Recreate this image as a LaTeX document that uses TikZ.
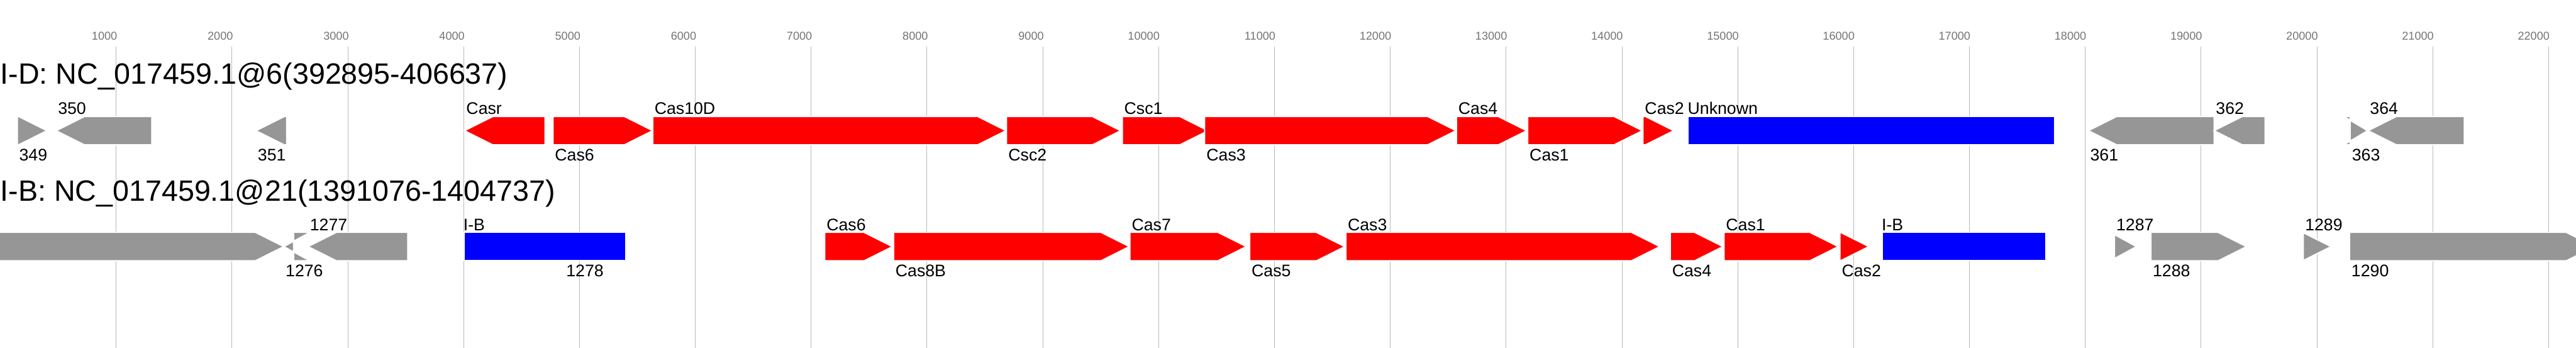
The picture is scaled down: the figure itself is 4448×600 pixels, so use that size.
\documentclass[tikz,border=0pt]{standalone}
\usepackage{fontspec}
\setmainfont{Liberation Sans}
\definecolor{genegray}{RGB}{150,150,150}
\definecolor{gridgray}{RGB}{185,185,185}
\definecolor{tickgray}{RGB}{115,115,115}
\tikzset{
  gene/.style={draw=white,line width=0.6pt},
  lab/.style={anchor=base west,inner sep=0pt,font=\fontsize{8.25}{9}\selectfont},
  hdr/.style={anchor=base west,inner sep=0pt,font=\fontsize{14.4}{16}\selectfont},
  ticklab/.style={anchor=base east,inner sep=0pt,text=tickgray,font=\fontsize{5.6}{6}\selectfont},
  gridline/.style={draw=gridgray,line width=0.3pt}
}
\newcommand\AboveY{-28}
\newcommand\BelowY{51.5}
% gene pointing right: [head]{start}{end}{colour}{label}{label y}
\newcommand\GeneR[6][49]{
\filldraw[gene,fill=#4]
  (#2,-24.5) -- (#3-#1,-24.5) -- (#3,0) -- (#3-#1,24.5) -- (#2,24.5) -- cycle;
\node[lab] (\RowId-#2) at (#2+2.5,#6) {#5};
}
% gene pointing left
\newcommand\GeneL[6][49]{
\filldraw[gene,fill=#4]
  (#3,-24.5) -- (#2+#1,-24.5) -- (#2,0) -- (#2+#1,24.5) -- (#3,24.5) -- cycle;
\node[lab] (\RowId-#2) at (#2+2.5,#6) {#5};
}
% array block
\newcommand\Block[4]{
\filldraw[gene,fill=blue] (#1,-24.5) rectangle (#2,24.5);
\node[lab] (\RowId-#1) at (#1-1.5,#4) {#3};
}

\begin{document}
\begin{tikzpicture}[x=0.01cm,y=-0.01cm]
\useasboundingbox (0,0) rectangle (4448,600);
\clip (0,0) rectangle (4448,600);

% ruler
\foreach \k in {1,...,22}{
  \draw[gridline] (200*\k+0.6,80) -- (200*\k+0.6,600);
  \node[ticklab] (tick\k) at (200*\k+3,69) {\k000};
}

\node[hdr] (hdrD) at (0,145) {I-D: NC\_017459.1@6(392895-406637)};
\node[hdr] (hdrB) at (0,346.7) {I-B: NC\_017459.1@21(1391076-1404737)};

\begin{scope}[shift={(0,225.5)}]
\def\RowId{r1}
\GeneR{30}{81}{genegray}{349}{\BelowY}
\GeneL{97}{262}{genegray}{350}{\AboveY}
\GeneL{442}{495}{genegray}{351}{\BelowY}
\GeneL{802}{941}{red}{Casr}{\AboveY}
\GeneR{955}{1127}{red}{Cas6}{\BelowY}
\GeneR{1127}{1737}{red}{Cas10D}{\AboveY}
\GeneR{1738}{1935}{red}{Csc2}{\BelowY}
\GeneR{1938}{2086}{red}{Csc1}{\AboveY}
\GeneR{2080}{2514}{red}{Cas3}{\BelowY}
\GeneR{2515}{2636}{red}{Cas4}{\AboveY}
\GeneR{2638}{2836}{red}{Cas1}{\BelowY}
\GeneR{2837}{2890}{red}{Cas2}{\AboveY}
\Block{2915}{3548}{Unknown}{\AboveY}
\GeneL{3606}{3823}{genegray}{361}{\BelowY}
\GeneL{3823}{3911}{genegray}{362}{\AboveY}
\GeneR[41]{4058}{4088}{genegray}{363}{\BelowY}
\GeneL{4089}{4255}{genegray}{364}{\AboveY}
\end{scope}

\begin{scope}[shift={(0,425.5)}]
\def\RowId{r2}
\filldraw[gene,fill=genegray]
  (-100,-24.5) -- (441,-24.5) -- (490,0) -- (441,24.5) -- (-100,24.5) -- cycle;
\GeneL[45]{490}{507}{genegray}{1276}{\BelowY}
\GeneL{532}{704}{genegray}{1277}{\AboveY}
\Block{801}{1081}{I-B}{\AboveY}
\node[lab] (r2-977) at (977,\BelowY) {1278};
\GeneR{1424}{1541}{red}{Cas6}{\AboveY}
\GeneR{1543}{1950}{red}{Cas8B}{\BelowY}
\GeneR{1951}{2152}{red}{Cas7}{\AboveY}
\GeneR{2158}{2322}{red}{Cas5}{\BelowY}
\GeneR{2324}{2866}{red}{Cas3}{\AboveY}
\GeneR{2884}{2975}{red}{Cas4}{\BelowY}
\GeneR{2977}{3174}{red}{Cas1}{\AboveY}
\GeneR{3177}{3227}{red}{Cas2}{\BelowY}
\Block{3250}{3532}{I-B}{\AboveY}
\GeneR[45]{3651}{3689}{genegray}{1287}{\AboveY}
\GeneR{3714}{3879}{genegray}{1288}{\BelowY}
\GeneR{3977}{4025}{genegray}{1289}{\AboveY}
\GeneR{4057}{4480}{genegray}{1290}{\BelowY}
\end{scope}
\end{tikzpicture}
\end{document}
